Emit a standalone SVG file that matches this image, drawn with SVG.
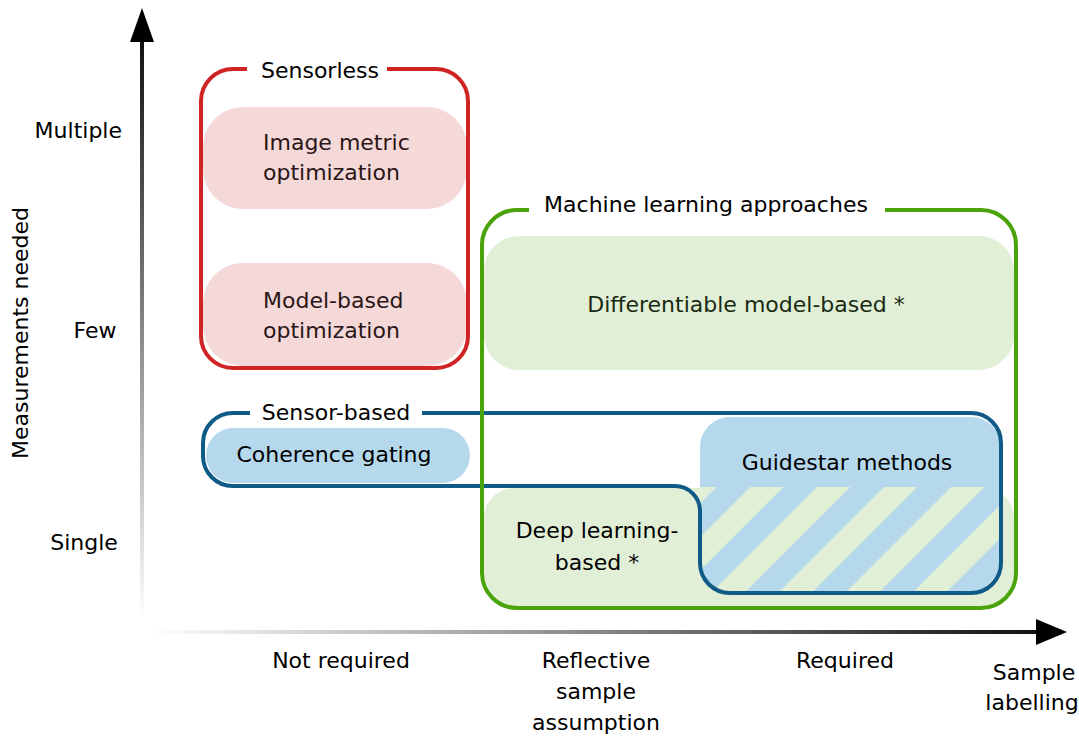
<svg xmlns="http://www.w3.org/2000/svg" width="1079" height="737" viewBox="0 0 1079 737">
<style>
text{font-family:"DejaVu Sans","Liberation Sans",sans-serif;font-size:22px;fill:#000}
.c{text-anchor:middle}
.tr{fill:#2a1616}
.tg{fill:#1a2a12}
.tb{fill:#0a1a24}
.pink{fill:#f5d8d8}
.gfill{fill:#e0efd6}
.bfill{fill:#b5d8ec}
.red{fill:none;stroke:#d02424;stroke-width:4}
.grn{fill:none;stroke:#4aa30b;stroke-width:4}
.blu{fill:none;stroke:#0f5a87;stroke-width:4}
</style>
<defs>
<linearGradient id="gy" x1="0" y1="620" x2="0" y2="42" gradientUnits="userSpaceOnUse">
<stop offset="0" stop-color="#ffffff"/>
<stop offset="1" stop-color="#111111"/>
</linearGradient>
<linearGradient id="gx" x1="150" y1="0" x2="1038" y2="0" gradientUnits="userSpaceOnUse">
<stop offset="0" stop-color="#ffffff"/>
<stop offset="1" stop-color="#111111"/>
</linearGradient>
<pattern id="hatch" patternUnits="userSpaceOnUse" width="47.38" height="47.38" patternTransform="rotate(45)">
<rect x="0" y="0" width="47.38" height="47.38" fill="#b5d8ec"/>
<rect x="21.9" y="0" width="23.7" height="47.38" fill="#e0efd6"/>
</pattern>
<clipPath id="gsclip">
<rect x="700" y="417" width="301" height="176" rx="30"/>
</clipPath>
</defs>
<rect width="1079" height="737" fill="#fff"/>

<g id="connectors">
<line x1="142" y1="620" x2="142" y2="40" stroke="url(#gy)" stroke-width="4"/>
<polygon points="142,8 154,42 130,42" fill="#000"/>
<line x1="150" y1="632" x2="1038" y2="632" stroke="url(#gx)" stroke-width="4"/>
<polygon points="1067,632 1036,619 1036,645" fill="#000"/>
</g>

<g id="axis-labels">
<text x="122" y="138" text-anchor="end">Multiple</text>
<text x="95" y="338" class="c">Few</text>
<text x="84" y="550" class="c">Single</text>
<text transform="translate(28,333) rotate(-90)" class="c">Measurements needed</text>
<text x="341" y="668" class="c">Not required</text>
<text x="596" y="668" class="c">Reflective</text>
<text x="596" y="699" class="c">sample</text>
<text x="596" y="730" class="c">assumption</text>
<text x="845" y="668" class="c">Required</text>
<text x="1034" y="680" class="c">Sample</text>
<text x="1032" y="710" class="c">labelling</text>
</g>

<g id="image-metric">
<rect class="pink" x="203" y="107" width="264" height="102" rx="40"/>
<text class="tr" x="263" y="150">Image metric</text>
<text class="tr" x="263" y="180">optimization</text>
</g>

<g id="model-based">
<rect class="pink" x="203" y="263" width="264" height="103" rx="40"/>
<text class="tr" x="263" y="308">Model-based</text>
<text class="tr" x="263" y="338">optimization</text>
</g>

<g id="differentiable">
<rect class="gfill" x="484" y="236" width="530" height="134" rx="35"/>
<text class="tg c" x="746" y="312">Differentiable model-based *</text>
</g>

<g id="deep-learning">
<rect class="gfill" x="484" y="488" width="530" height="120" rx="30"/>
<text class="c" x="597" y="538">Deep learning-</text>
<text class="c" x="597" y="570">based *</text>
</g>

<g id="coherence-gating">
<rect class="bfill" x="206" y="428" width="264" height="55" rx="27.5"/>
<text class="c" x="334" y="462">Coherence gating</text>
</g>

<g id="guidestar">
<rect class="bfill" x="700" y="417" width="301" height="176" rx="30"/>
<rect x="700" y="487" width="301" height="106" fill="url(#hatch)" clip-path="url(#gsclip)"/>
<text class="c" x="847" y="470">Guidestar methods</text>
</g>

<g id="sensor-based">
<path class="blu" d="M250,413 H233 A30,30 0 0 0 203,443 V456 A30,30 0 0 0 233,486 H675 A25,25 0 0 1 700,511 V563 A30,30 0 0 0 730,593 H971 A30,30 0 0 0 1001,563 V443 A30,30 0 0 0 971,413 H422"/>
<text class="c" x="336" y="420">Sensor-based</text>
</g>

<g id="machine-learning">
<path class="grn" d="M529,210 H517 A35,35 0 0 0 482,245 V573 A35,35 0 0 0 517,608 H981 A35,35 0 0 0 1016,573 V245 A35,35 0 0 0 981,210 H885"/>
<text class="c" x="706" y="212">Machine learning approaches</text>
</g>

<g id="sensorless">
<path class="red" d="M247,69 H233 A32,32 0 0 0 201,101 V336 A32,32 0 0 0 233,368 H436 A32,32 0 0 0 468,336 V101 A32,32 0 0 0 436,69 H387"/>
<text class="c" x="320" y="78">Sensorless</text>
</g>
</svg>
